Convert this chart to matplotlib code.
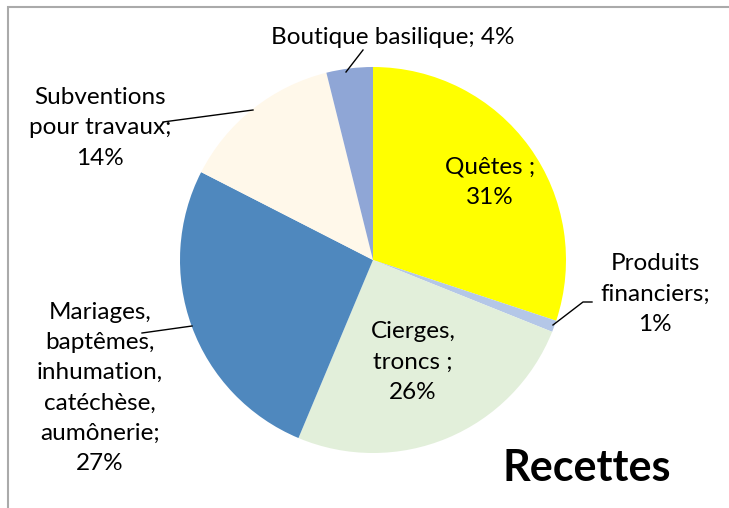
import matplotlib.pyplot as plt
from matplotlib.patches import Rectangle

labels = ["Quêtes ;\n31%", "Produits\nfinanciers;\n1%", "Cierges,\ntroncs ;\n26%",
          "Mariages,\nbaptêmes,\ninhumation,\ncatéchèse,\naumônerie;\n27%",
          "Subventions\npour travaux;\n14%", "Boutique basilique; 4%"]
values = [31, 1, 26, 27, 14, 4]
colors = ["#FFFF00", "#B4C7E7", "#E2EFDA", "#4F88BE", "#FFF8EA", "#8FA6D6"]

H = 508
# label centres in pixels (x, y from top)
label_pos = [(490, 182), (655, 294), (413, 362), (100, 388), (100, 128), (393, 38)]

plt.rcParams['font.family'] = ['Lato', 'DejaVu Sans']

fig = plt.figure(figsize=(7.29, 5.08), dpi=100)
ax = fig.add_axes([0, 0, 1, 1])

ax.pie(values, colors=colors, startangle=90, counterclock=False,
       center=(373, H - 260), radius=193, frame=True,
       wedgeprops=dict(linewidth=0))
ax.set_xlim(0, 729)
ax.set_ylim(0, H)
ax.set_aspect('equal')
ax.axis('off')

for lab, (x, y) in zip(labels, label_pos):
    ax.text(x, H - y, lab, ha='center', va='center', fontsize=17.5, linespacing=1.55)

# leader lines
def leader(xs, ys):
    ax.plot(xs, [H - y for y in ys], color='black', lw=1)

leader([163, 253], [122, 110])
leader([142, 192], [333, 326])
leader([346, 363], [72, 50])
leader([553, 583, 592], [325, 302, 302])

ax.text(587, H - 468, "Recettes", ha='center', va='center', fontsize=31, fontweight='bold')

ax.add_patch(Rectangle((8, -100), 800, H - 7 + 100, fill=False, edgecolor='#AAAAAA', lw=1.5))

fig.savefig("out.png", dpi=100)
